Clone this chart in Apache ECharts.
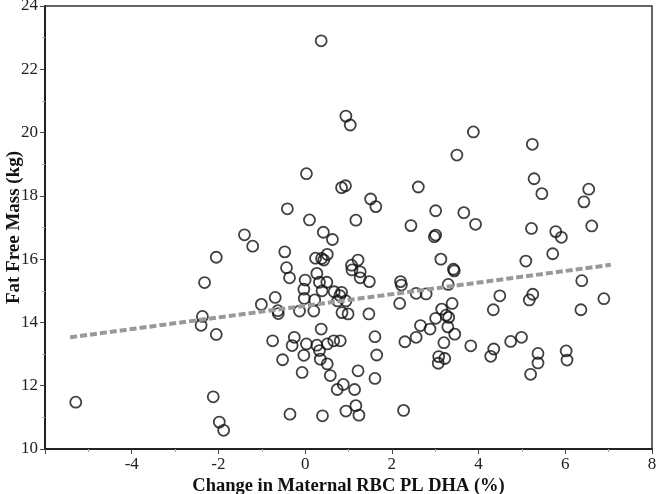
<!DOCTYPE html>
<html>
<head>
<meta charset="utf-8">
<script src="https://cdn.jsdelivr.net/npm/echarts@6/dist/echarts.min.js"></script>
<style>
html,body{margin:0;padding:0;background:#fff;}
#c{width:656px;height:494px;}
</style>
</head>
<body>
<div id="c"></div>
<script>
const xTicks = [-6, -4, -2, 0, 2, 4, 6, 8];
const yTicks = [10, 12, 14, 16, 18, 20, 22, 24];
const xTitle = 'Change in Maternal RBC PL DHA (%)';
const yTitle = 'Fat Free Mass (kg)';

const dhaChange = [
 -5.29,-2.05,-2.32,-2.37,-2.40,-2.05,-2.12,-1.98,-1.88,-1.40,
 -1.21,-1.01,-0.69,-0.63,-0.62,-0.75,-0.52,-0.41,-0.47,-0.43,
 -0.36,-0.25,-0.30,-0.35,-0.13,-0.07,-0.03,0.03,0.10,0.00,
 -0.03,-0.02,0.03,0.22,0.20,0.24,0.38,0.43,0.51,0.27,
 0.33,0.50,0.39,0.37,0.42,0.63,0.37,0.27,0.33,0.51,
 0.35,0.51,0.58,0.40,0.66,0.81,0.67,0.84,0.75,0.94,
 0.80,0.85,0.99,0.88,0.74,0.94,0.94,1.04,0.84,0.93,
 1.07,1.22,1.08,1.27,1.27,1.48,1.47,1.14,1.17,1.24,
 1.22,1.17,1.51,1.63,1.61,1.65,1.61,2.20,2.22,2.18,
 2.30,2.27,2.61,2.44,2.56,2.79,2.66,2.56,2.88,3.01,
 2.98,3.01,3.13,3.42,3.44,3.30,3.39,3.15,3.01,3.25,
 3.31,3.29,3.45,3.20,3.08,3.22,3.07,3.82,3.50,3.88,
 3.66,3.93,4.34,4.49,4.35,4.28,4.74,4.99,5.09,5.24,
 5.28,5.46,5.22,5.25,5.17,5.37,5.37,5.20,5.71,5.78,
 5.91,6.02,6.04,6.38,6.36,6.43,6.54,6.61,6.89
];
const fatFreeMass = [
 11.48,16.06,15.26,14.19,13.91,13.62,11.65,10.85,10.59,16.77,
 16.41,14.57,14.79,14.37,14.28,13.42,12.82,17.59,16.23,15.73,
 15.41,13.53,13.27,11.10,14.36,12.42,12.96,18.70,17.24,15.34,
 15.05,14.76,13.32,14.71,14.36,16.03,16.02,15.97,16.15,15.55,
 15.27,15.27,15.00,22.90,16.85,16.62,13.79,13.28,13.11,13.32,
 12.84,12.69,12.32,11.05,13.42,13.42,14.97,14.95,14.68,14.68,
 14.85,14.31,14.27,12.04,11.88,11.20,20.52,20.24,18.26,18.32,
 15.81,15.97,15.66,15.60,15.41,15.29,14.27,11.88,11.37,11.07,
 12.47,17.23,17.90,17.66,13.55,12.97,12.23,15.29,15.18,14.60,
 13.39,11.22,18.28,17.06,14.92,14.90,13.90,13.53,13.79,17.53,
 16.71,16.76,16.00,15.68,15.63,15.20,14.60,14.42,14.13,14.23,
 14.16,13.86,13.63,13.36,12.92,12.86,12.71,13.26,19.29,20.02,
 17.47,17.10,14.40,14.84,13.16,12.93,13.40,13.53,15.94,19.63,
 18.54,18.07,16.97,14.89,14.71,13.02,12.72,12.36,16.17,16.87,
 16.69,13.10,12.81,15.32,14.40,17.81,18.21,17.05,14.75
];
const trendX = [-5.42, 7.05];
const trendY = [13.53, 15.82];

const points = dhaChange.map((x, i) => [x, fatFreeMass[i]]);
const trend = trendX.map((x, i) => [x, trendY[i]]);

const serif = '"Liberation Serif", "DejaVu Serif", serif';
const chart = echarts.init(document.getElementById('c'), null, {renderer: 'canvas'});
chart.setOption({
  animation: false,
  backgroundColor: '#ffffff',
  grid: {left: 45, right: 4, top: 6, bottom: 45, containLabel: false, outerBoundsMode: 'none',
    show: true, borderColor: '#333', borderWidth: 1.5, backgroundColor: 'transparent'},
  xAxis: {
    type: 'value', min: xTicks[0], max: xTicks[xTicks.length - 1], interval: 2,
    name: xTitle, nameLocation: 'middle', nameGap: 28, nameMoveOverlap: false,
    nameTextStyle: {fontFamily: serif, fontWeight: 'bold', fontSize: 18.5, color: '#111'},
    axisLine: {show: true, onZero: false, lineStyle: {color: '#222', width: 2}},
    axisTick: {show: true, length: 5, lineStyle: {color: '#444', width: 1}},
    minorTick: {show: true, splitNumber: 2, length: 3, lineStyle: {color: '#aaa', width: 1}},
    axisLabel: {fontFamily: serif, fontSize: 17, color: '#222', margin: 7,
      formatter: v => (v === xTicks[0] ? '' : String(v))},
    splitLine: {show: false}
  },
  yAxis: {
    type: 'value', min: yTicks[0], max: yTicks[yTicks.length - 1], interval: 2,
    name: yTitle, nameLocation: 'middle', nameGap: 21, nameMoveOverlap: false,
    nameTextStyle: {fontFamily: serif, fontWeight: 'bold', fontSize: 19, color: '#111'},
    axisLine: {show: true, onZero: false, lineStyle: {color: '#222', width: 2}},
    axisTick: {show: true, length: 5, lineStyle: {color: '#444', width: 1}},
    minorTick: {show: true, splitNumber: 2, length: 3, lineStyle: {color: '#aaa', width: 1}},
    axisLabel: {fontFamily: serif, fontSize: 17, color: '#222', margin: 7},
    splitLine: {show: false}
  },
  series: [
    {
      type: 'scatter', data: points, symbol: 'circle', symbolSize: 11,
      itemStyle: {color: 'rgba(255,255,255,0)', borderColor: '#111', borderWidth: 1.8},
      z: 2
    },
    {
      type: 'line', data: trend, symbol: 'none',
      lineStyle: {color: '#999', width: 4, type: [7, 3]},
      z: 3
    }
  ]
});
</script>
</body>
</html>
